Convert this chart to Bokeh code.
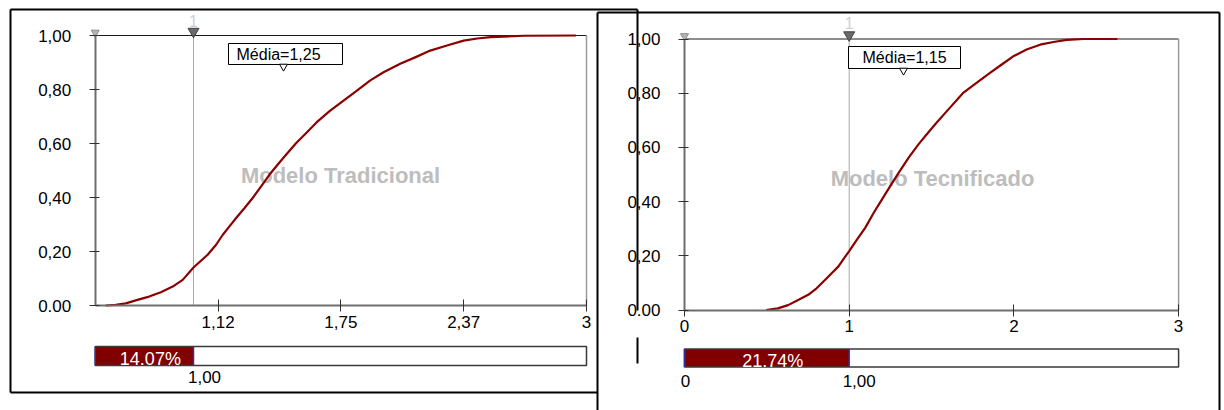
from bokeh.plotting import figure
from bokeh.models import Range1d, LinearAxis, FixedTicker
from bokeh.core.properties import value
from bokeh.embed import file_html
from bokeh.resources import INLINE

# ---------------- data ----------------
trad_x = [0.553, 0.604, 0.655, 0.715, 0.774, 0.834, 0.894, 0.945, 1.000,
          1.072, 1.115, 1.149, 1.183, 1.217, 1.260, 1.302, 1.345, 1.388, 1.430, 1.473,
          1.524, 1.575, 1.626, 1.694, 1.762, 1.830, 1.898, 1.967, 2.052, 2.128,
          2.205, 2.290, 2.375, 2.444, 2.512, 2.682, 2.946]
trad_y = [0.000, 0.002, 0.008, 0.021, 0.033, 0.049, 0.070, 0.095, 0.1407,
          0.188, 0.225, 0.262, 0.293, 0.324, 0.361, 0.399, 0.442, 0.486, 0.523, 0.560,
          0.603, 0.640, 0.678, 0.721, 0.758, 0.795, 0.833, 0.864, 0.895, 0.919,
          0.944, 0.963, 0.981, 0.989, 0.994, 0.999, 1.000]

tec_x = [0.496, 0.567, 0.629, 0.690, 0.751, 0.802, 0.853, 0.904, 0.935, 0.965, 1.000,
         1.047, 1.098, 1.149, 1.200, 1.251, 1.302, 1.363, 1.424, 1.475, 1.526,
         1.608, 1.690, 1.771, 1.853, 1.924, 1.996, 2.077, 2.159, 2.240, 2.322,
         2.424, 2.628]
tec_y = [0.000, 0.006, 0.018, 0.037, 0.056, 0.080, 0.111, 0.142, 0.161, 0.188, 0.2174,
         0.260, 0.304, 0.359, 0.409, 0.459, 0.508, 0.564, 0.614, 0.651, 0.688,
         0.744, 0.800, 0.837, 0.874, 0.905, 0.936, 0.961, 0.979, 0.989, 0.997,
         1.000, 1.000]

y_ticks = [0.0, 0.2, 0.4, 0.6, 0.8, 1.0]
y_tick_labels = ["0.00", "0,20", "0,40", "0,60", "0,80", "1,00"]

trad_x_ticks = [1.125, 1.75, 2.375, 3.0]
trad_x_labels = ["1,12", "1,75", "2,37", "3"]
tec_x_ticks = [0.0, 1.0, 2.0, 3.0]
tec_x_labels = ["0", "1", "2", "3"]

trad_range = (0.5, 3.0)
tec_range = (0.0, 3.0)
threshold = 1.0
threshold_label = "1,00"
trad_prob = 14.07
tec_prob = 21.74
trad_mean = 1.25
tec_mean = 1.15
titles = ["Modelo Tradicional", "Modelo Tecnificado"]

FONT = "Liberation Sans"
RED = "#800000"

# ---------------- layout geometry (picture pixels) ----------------
W, H = 1224, 410
panels = {
    "L": dict(ax=94.75, sx=196.5, xmin=trad_range[0], xmax=trad_range[1], by=305.0, sy=270.0),
    "R": dict(ax=684.0, sx=164.7, xmin=tec_range[0], xmax=tec_range[1], by=309.5, sy=271.0),
}


def to_x(k, px):
    g = panels[k]
    return g["xmin"] + (px - g["ax"]) / g["sx"]


def to_y(k, py):
    g = panels[k]
    return (g["by"] - py) / g["sy"]


p = figure(width=W, height=H,
           x_range=Range1d(0, W), y_range=Range1d(H, 0),
           x_axis_type=None, y_axis_type=None,
           toolbar_location=None, output_backend="svg",
           min_border=0, outline_line_color=None,
           background_fill_color="white", border_fill_color="white")
p.extra_x_ranges = {k: Range1d(to_x(k, 0), to_x(k, W)) for k in panels}
p.extra_y_ranges = {k: Range1d(to_y(k, H), to_y(k, 0)) for k in panels}

# ---------------- frames ----------------
p.segment(x0=[10, 10, 10, 597, 597, 1219], y0=[9, 9, 392, 12, 12, 12],
          x1=[637, 10, 597, 1219, 597, 1219], y1=[9, 392, 392, 12, 410, 410],
          line_color="black", line_width=2)
r_over = p.segment(x0=[637, 637], y0=[9, 337], x1=[637, 637], y1=[310, 363],
                   line_color="black", line_width=2)
r_over.level = "overlay"

configs = [
    dict(k="L", xs=trad_x, ys=trad_y, xt=trad_x_ticks, xl=trad_x_labels, prob=trad_prob,
         mean=trad_mean, title=titles[0], title_pos=(340, 175),
         box=(228, 342, 43, 64), mtext=(236, 54), ptr=(283, 66),
         bar=(346, 365), lab_py=376, one_py=20, zero_label=False, label_dx=11),
    dict(k="R", xs=tec_x, ys=tec_y, xt=tec_x_ticks, xl=tec_x_labels, prob=tec_prob,
         mean=tec_mean, title=titles[1], title_pos=(932, 178),
         box=(848, 960, 46, 68), mtext=(862, 57), ptr=(903, 70),
         bar=(348.5, 366.5), lab_py=380, one_py=22, zero_label=True, label_dx=10),
]

for c in configs:
    k = c["k"]
    g = panels[k]
    xmin, xmax = g["xmin"], g["xmax"]
    kw = dict(x_range_name=k, y_range_name=k)

    # watermark
    p.text(x=[c["title_pos"][0]], y=[c["title_pos"][1]], text=[c["title"]],
           text_font=value(FONT), text_font_size="22px", text_font_style="bold",
           text_color="#bdbdbd", text_align="center", text_baseline="middle")

    # plot box: top line and right border
    p.segment(x0=[xmin], y0=[1.0], x1=[xmax], y1=[1.0], line_color="#1a1a1a", line_width=1, **kw)
    p.segment(x0=[xmax], y0=[0.0], x1=[xmax], y1=[1.0], line_color="#9a9a9a", line_width=1.5, **kw)

    # threshold line
    p.segment(x0=[threshold], y0=[0.0], x1=[threshold], y1=[1.0], line_color="#a8a8a8", line_width=1, **kw)

    # cumulative curve
    p.line(c["xs"], c["ys"], line_color="#8b0000", line_width=2.2, line_join="round", **kw)

    # top slider markers
    p.scatter(x=[xmin], y=[to_y(k, g["by"] - g["sy"] - 3)], marker="inverted_triangle", size=8,
              fill_color="#b4b4b4", line_color="#8c8c8c", **kw)
    p.scatter(x=[threshold], y=[to_y(k, g["by"] - g["sy"] - 4)], marker="inverted_triangle", size=11,
              fill_color="#6a6a6a", line_color="#404040", **kw)
    p.text(x=[threshold], y=[to_y(k, c["one_py"])], text=["1"], text_font=value(FONT),
           text_font_size="16px", text_color="#cfcfcf", text_align="center",
           text_baseline="middle", **kw)

    # mean box
    bx0, bx1, by0, by1 = c["box"]
    p.quad(left=[bx0], right=[bx1], top=[by0], bottom=[by1], fill_color="white",
           line_color="black", line_width=1)
    p.text(x=[c["mtext"][0]], y=[c["mtext"][1]],
           text=["Média=" + f"{c['mean']:.2f}".replace(".", ",")],
           text_font=value(FONT), text_font_size="16px", text_color="black",
           text_align="left", text_baseline="middle")
    p.scatter(x=[c["ptr"][0]], y=[c["ptr"][1]], marker="inverted_triangle", size=8,
              fill_color="white", line_color="black", line_width=1)

    # probability bar
    yt, yb = to_y(k, c["bar"][0]), to_y(k, c["bar"][1])
    p.quad(left=[xmin], right=[threshold], top=[yt], bottom=[yb], fill_color=RED, line_color=None, **kw)
    p.quad(left=[threshold], right=[xmax], top=[yt], bottom=[yb], fill_color="white", line_color=None, **kw)
    p.quad(left=[xmin], right=[xmax], top=[yt], bottom=[yb], fill_color=None,
           line_color="#3a3a3a", line_width=1.5, **kw)
    p.segment(x0=[xmin, threshold], y0=[yt, yt], x1=[xmin, threshold], y1=[yb, yb],
              line_color="#3030a0", line_width=1.5, **kw)
    p.text(x=[(xmin + threshold) / 2], y=[to_y(k, (c["bar"][0] + c["bar"][1]) / 2 + 3)],
           text=[f"{c['prob']:.2f}%"], x_offset=6,
           text_font=value(FONT), text_font_size="18px", text_color="white",
           text_align="center", text_baseline="middle", **kw)
    p.text(x=[threshold], y=[to_y(k, c["lab_py"])], text=[threshold_label], x_offset=c["label_dx"],
           text_font=value(FONT), text_font_size="17px", text_color="black",
           text_align="center", text_baseline="middle", **kw)
    if c["zero_label"]:
        p.text(x=[xmin], y=[to_y(k, c["lab_py"])], text=["0"], x_offset=1,
               text_font=value(FONT), text_font_size="17px", text_color="black",
               text_align="center", text_baseline="middle", **kw)

    # axes
    yax = LinearAxis(x_range_name=k, y_range_name=k, fixed_location=xmin, bounds=(0, 1),
                     ticker=FixedTicker(ticks=y_ticks),
                     major_label_overrides=dict(zip(y_ticks, y_tick_labels)))
    yax.axis_line_color = "#6e6e6e"
    yax.axis_line_width = 2
    yax.major_tick_in = 4
    yax.major_tick_out = 6
    yax.major_tick_line_color = "#303030"
    yax.minor_tick_line_color = None
    yax.major_label_standoff = 18
    yax.major_label_text_font = FONT
    yax.major_label_text_font_size = "17px"
    yax.major_label_text_color = "black"
    p.add_layout(yax, "left")

    xax = LinearAxis(x_range_name=k, y_range_name=k, fixed_location=0.0, bounds=(xmin, xmax),
                     ticker=FixedTicker(ticks=c["xt"]),
                     major_label_overrides=dict(zip(c["xt"], c["xl"])))
    xax.axis_line_color = "#6e6e6e"
    xax.axis_line_width = 2
    xax.major_tick_in = 6
    xax.major_tick_out = 6
    xax.major_tick_line_color = "#303030"
    xax.minor_tick_line_color = None
    xax.major_label_standoff = 4
    xax.major_label_text_font = FONT
    xax.major_label_text_font_size = "17px"
    xax.major_label_text_color = "black"
    p.add_layout(xax, "below")

open("out.html", "w").write(file_html(p, INLINE))
